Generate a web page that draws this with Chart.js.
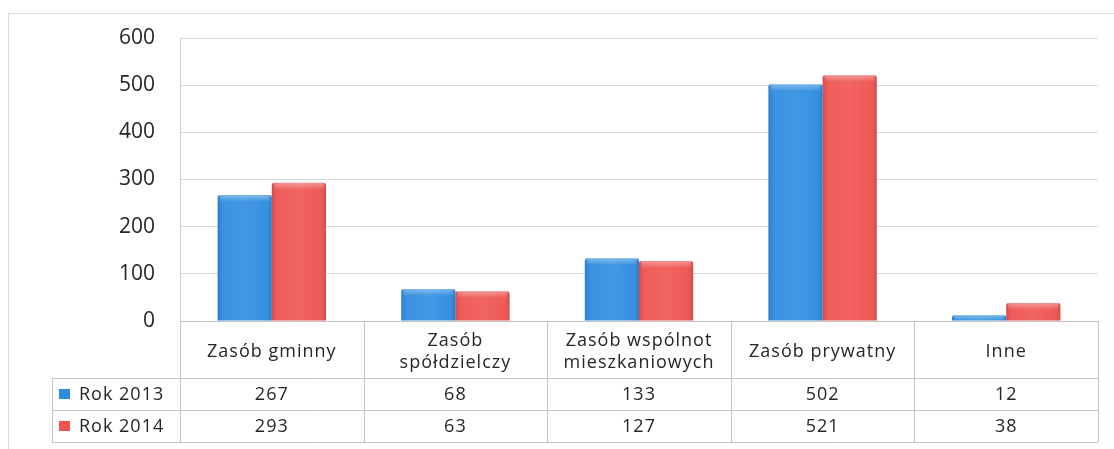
<!DOCTYPE html>
<html>
<head>
<meta charset="utf-8">
<script src="https://cdn.jsdelivr.net/npm/chart.js@4/dist/chart.umd.min.js"></script>
<style>
html,body{margin:0;padding:0;background:#fff;}
canvas{display:block;}
</style>
</head>
<body>
<canvas id="c" width="1114" height="449"></canvas>
<script>
const categories = [["Zasób gminny"], ["Zasób", "spółdzielczy"], ["Zasób wspólnot", "mieszkaniowych"], ["Zasób prywatny"], ["Inne"]];
const seriesNames = ["Rok 2013", "Rok 2014"];
const values2013 = [267, 68, 133, 502, 12];
const values2014 = [293, 63, 127, 521, 38];
const yTicks = [0, 100, 200, 300, 400, 500, 600];
const colors = ["#2e8ce0", "#ee5350"];

const FONT = "'Open Sans', 'Liberation Sans', sans-serif";
const TEXT = "#262626";
const LINE = "#c4c4c4";

const tablePlugin = {
  id: 'dataTable',
  beforeDraw(chart) {
    const ctx = chart.ctx;
    ctx.save();
    ctx.fillStyle = '#fff';
    ctx.fillRect(0, 0, chart.width, chart.height);
    ctx.strokeStyle = '#dcdcdc';
    ctx.lineWidth = 1;
    ctx.beginPath();
    ctx.moveTo(8.5, chart.height);
    ctx.lineTo(8.5, 13.5);
    ctx.lineTo(chart.width, 13.5);
    ctx.stroke();
    ctx.restore();
  },
  afterDatasetsDraw(chart) {
    const ctx = chart.ctx;
    ctx.save();
    chart.data.datasets.forEach((ds, di) => {
      chart.getDatasetMeta(di).data.forEach(bar => {
        const l = bar.x - bar.width / 2, w = bar.width;
        const t = bar.y, h = bar.base - bar.y;
        if (h <= 0) return;
        const g = ctx.createLinearGradient(l, 0, l + w, 0);
        g.addColorStop(0, 'rgba(0,0,0,0.10)');
        g.addColorStop(0.12, 'rgba(255,255,255,0.06)');
        g.addColorStop(0.5, 'rgba(255,255,255,0.10)');
        g.addColorStop(0.88, 'rgba(255,255,255,0.04)');
        g.addColorStop(1, 'rgba(0,0,0,0.12)');
        ctx.fillStyle = g;
        ctx.fillRect(l, t, w, h);
        const bh = Math.min(7, h);
        const g2 = ctx.createLinearGradient(0, t, 0, t + bh);
        g2.addColorStop(0, 'rgba(255,255,255,0.35)');
        g2.addColorStop(1, 'rgba(255,255,255,0)');
        ctx.fillStyle = g2;
        ctx.fillRect(l + 2, t, w - 4, bh);
      });
    });
    ctx.restore();
  },
  afterDraw(chart) {
    const ctx = chart.ctx;
    const area = chart.chartArea;
    const x = chart.scales.x;
    const n = categories.length;
    const step = (area.right - area.left) / n;
    const top = area.bottom;
    const hdrH = 57, rowH = 32;
    const r1 = top + hdrH, r2 = r1 + rowH, r3 = r2 + rowH;
    const legLeft = 52;
    ctx.save();
    ctx.strokeStyle = LINE;
    ctx.lineWidth = 1;
    ctx.beginPath();
    ctx.moveTo(area.left, top + 0.5); ctx.lineTo(area.right, top + 0.5);
    [r1, r2, r3].forEach(y => { ctx.moveTo(legLeft, y + 0.5); ctx.lineTo(area.right, y + 0.5); });
    for (let i = 0; i <= n; i++) {
      const xx = Math.round(area.left + i * step) + 0.5;
      ctx.moveTo(xx, top); ctx.lineTo(xx, r3);
    }
    ctx.moveTo(legLeft + 0.5, r1); ctx.lineTo(legLeft + 0.5, r3);
    ctx.stroke();

    ctx.fillStyle = TEXT;
    ctx.font = '18px ' + FONT;
    try { ctx.letterSpacing = '1px'; } catch (e) {}
    ctx.textAlign = 'center';
    ctx.textBaseline = 'middle';
    categories.forEach((lab, i) => {
      const cx = x.getPixelForValue(i);
      const cy = top + hdrH / 2 + 2;
      const lh = 22;
      lab.forEach((line, j) => {
        ctx.fillText(line, cx, cy + (j - (lab.length - 1) / 2) * lh);
      });
      ctx.fillText(String(values2013[i]), cx, r1 + rowH / 2 + 1);
      ctx.fillText(String(values2014[i]), cx, r2 + rowH / 2 + 1);
    });
    [r1, r2].forEach((ry, k) => {
      const cy = ry + rowH / 2;
      ctx.fillStyle = colors[k];
      ctx.fillRect(59, cy - 5, 11, 10);
      ctx.fillStyle = TEXT;
      ctx.textAlign = 'left';
      ctx.fillText(seriesNames[k], 79, cy + 1);
    });
    ctx.restore();
  }
};

new Chart(document.getElementById('c'), {
  type: 'bar',
  data: {
    labels: categories.map(c => c.join(' ')),
    datasets: [
      { label: seriesNames[0], data: values2013, backgroundColor: colors[0], borderWidth: 0, borderRadius: {topLeft: 3, topRight: 3}, borderSkipped: 'bottom' },
      { label: seriesNames[1], data: values2014, backgroundColor: colors[1], borderWidth: 0, borderRadius: {topLeft: 3, topRight: 3}, borderSkipped: 'bottom' }
    ]
  },
  options: {
    responsive: false,
    animation: false,
    layout: { padding: { top: 38, left: 0, right: 16, bottom: 128 } },
    plugins: { legend: { display: false }, tooltip: { enabled: false } },
    datasets: { bar: { barPercentage: 1.0, categoryPercentage: 0.59 } },
    scales: {
      x: { display: false },
      y: {
        min: 0, max: 600,
        afterFit(s) { s.width = 180; },
        afterBuildTicks(s) { s.ticks = yTicks.map(v => ({ value: v })); },
        grid: { color: '#d9d9d9', drawTicks: false },
        border: { display: true, color: '#d0d0d0' },
        ticks: { padding: 25, color: TEXT, font: { family: FONT, size: 21 } }
      }
    }
  },
  plugins: [tablePlugin]
});
</script>
</body>
</html>
